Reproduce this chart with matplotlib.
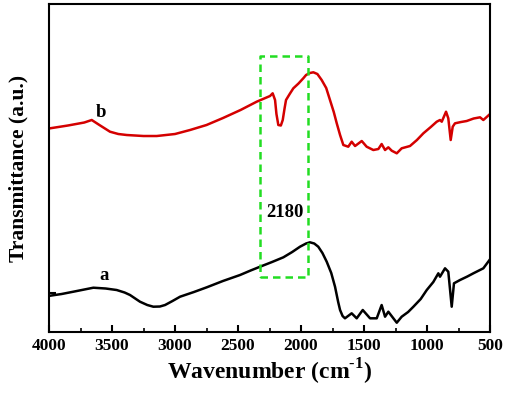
import matplotlib.pyplot as plt
import numpy as np

plt.rcParams['font.family'] = ['Liberation Serif', 'DejaVu Serif']
plt.rcParams['font.weight'] = 'bold'
plt.rcParams['mathtext.fontset'] = 'custom'
plt.rcParams['mathtext.rm'] = 'Liberation Serif:bold'
plt.rcParams['mathtext.bf'] = 'Liberation Serif:bold'

# curve b (red), wavenumber vs. relative transmittance (arbitrary units)
wn_b = [3992, 3850, 3720, 3661, 3600, 3516, 3450, 3383, 3250, 3145, 3000, 2881,
        2750, 2619, 2480, 2352, 2246, 2225, 2206, 2195, 2180, 2160, 2145, 2130,
        2119, 2090, 2061, 2020, 1982, 1960, 1930, 1902, 1870, 1836, 1800, 1770,
        1740, 1717, 1690, 1664, 1625, 1598, 1571, 1518, 1479, 1426, 1386, 1360,
        1333, 1307, 1280, 1240, 1201, 1135, 1080, 1029, 970, 923, 897, 883, 849,
        831, 812, 796, 778, 730, 685, 630, 579, 553, 500]
tr_b = [268.7, 271.5, 274.5, 277.0, 272.0, 265.3, 263.0, 262.0, 261.0, 261.0,
        263.0, 267.0, 272.0, 279.0, 287.0, 295.3, 301.0, 303.7, 297.0, 283.0,
        272.0, 271.5, 277.0, 289.0, 297.0, 303.0, 308.7, 313.5, 318.7, 322.0,
        324.0, 324.7, 323.0, 317.0, 309.0, 297.0, 285.0, 274.0, 262.0, 252.0,
        250.3, 255.3, 251.0, 256.0, 250.3, 247.0, 248.0, 253.0, 247.0, 249.7,
        246.3, 243.7, 248.7, 251.0, 257.0, 263.7, 270.0, 275.3, 277.0, 275.3,
        285.3, 278.7, 257.0, 270.3, 273.7, 275.0, 276.0, 278.5, 279.7, 277.0,
        283.0]

# curve a (black)
wn_a = [3992, 3900, 3807, 3700, 3648, 3550, 3463, 3400, 3357, 3310, 3278, 3220,
        3172, 3120, 3079, 3020, 2960, 2850, 2748, 2620, 2484, 2400, 2325, 2230,
        2140, 2070, 2008, 1960, 1929, 1895, 1863, 1830, 1796, 1760, 1730, 1705,
        1690, 1670, 1651, 1598, 1558, 1510, 1452, 1399, 1360, 1333, 1307, 1267,
        1240, 1201, 1150, 1108, 1050, 1002, 950, 910, 897, 857, 831, 804, 786,
        738, 680, 632, 553, 500]
tr_a = [101.3, 103.0, 105.3, 108.0, 109.3, 108.5, 107.0, 104.5, 102.0, 98.0,
        95.3, 92.0, 90.3, 90.5, 92.0, 96.0, 100.3, 105.0, 109.7, 116.0, 122.0,
        126.5, 130.3, 135.0, 139.7, 145.0, 150.3, 153.5, 154.7, 153.5, 150.3,
        144.0, 135.3, 124.0, 110.3, 95.0, 87.0, 81.0, 78.7, 83.7, 78.7, 87.0,
        78.7, 78.7, 92.0, 80.3, 85.3, 78.7, 74.3, 80.3, 85.0, 90.3, 98.0, 107.0,
        115.0, 123.7, 120.3, 128.7, 125.3, 90.3, 113.7, 117.0, 120.5, 123.7,
        128.7, 137.7]

# highlighted region around 2180 cm-1
box_x = [2325, 1942]
box_y = [120, 341]

fig = plt.figure(figsize=(5.10, 3.97), dpi=100)
ax = fig.add_axes([0.0961, 0.1637, 0.8647, 0.8262])

ax.plot(wn_a, tr_a, color='black', lw=1.8)
ax.plot(wn_b, tr_b, color='#d40000', lw=1.8)

ax.plot([box_x[0], box_x[1], box_x[1], box_x[0], box_x[0]],
        [box_y[0], box_y[0], box_y[1], box_y[1], box_y[0]],
        color='#22dd22', lw=1.8, ls=(0, (3, 2)))

ax.text(2127, 185, '2180', fontsize=13.5, fontweight='bold', ha='center', va='center')
ax.text(3587, 285, 'b', fontsize=13.5, fontweight='bold', ha='center', va='center')
ax.text(3561, 122, 'a', fontsize=13.5, fontweight='bold', ha='center', va='center')

ax.set_xlim(4000, 500)
ax.set_ylim(65, 393)
ax.set_xticks(np.arange(4000, 499, -500))
ax.set_xticks(np.arange(3750, 500, -500), minor=True)
ax.set_yticks([104])
ax.set_yticklabels([])
ax.tick_params(direction='in', length=5, width=1.5, labelsize=12.5, pad=4)
ax.tick_params(which='minor', direction='in', length=3, width=1.2)
for lbl in ax.get_xticklabels():
    lbl.set_fontweight('bold')
for sp in ax.spines.values():
    sp.set_linewidth(1.5)

ax.set_xlabel(r'Wavenumber (cm$^{\text{-1}}$)', fontsize=17, fontweight='bold', labelpad=2)
ax.set_ylabel('Transmittance (a.u.)', fontsize=15.5, fontweight='bold', labelpad=11)

plt.savefig('out.png', dpi=100)
